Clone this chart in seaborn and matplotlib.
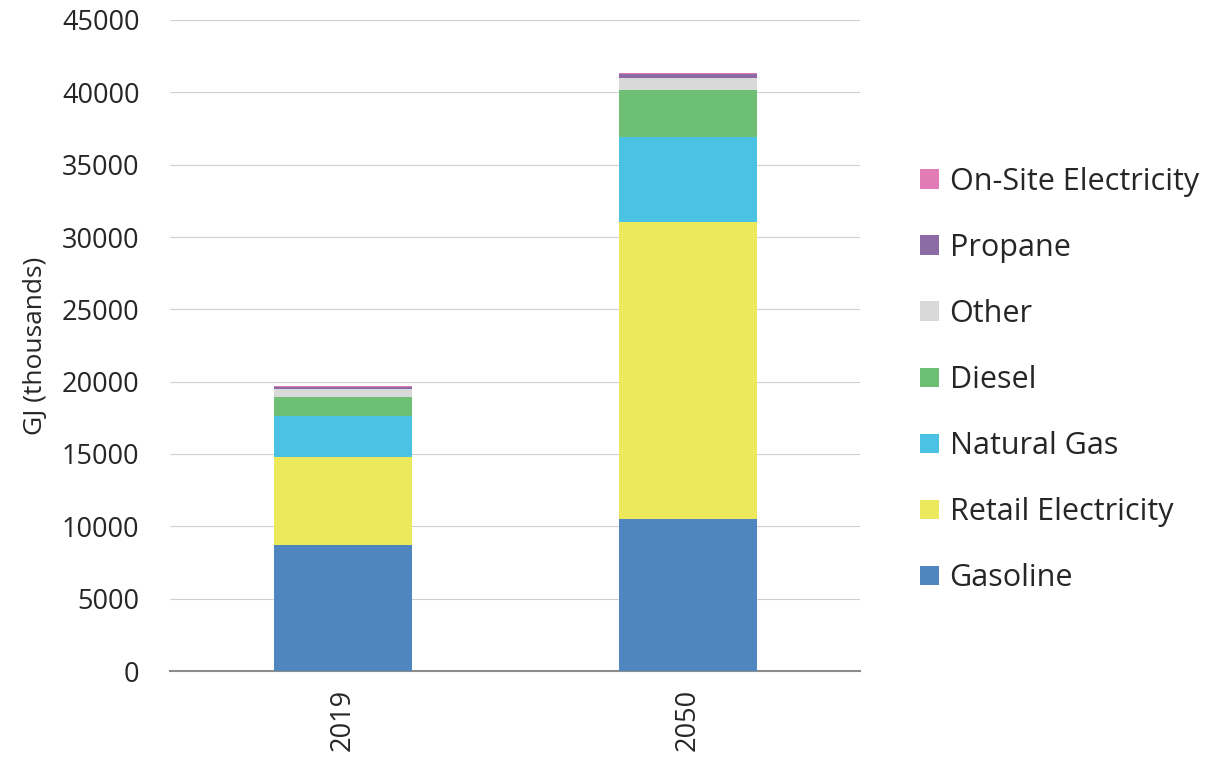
import matplotlib
matplotlib.use("Agg")
import matplotlib.pyplot as plt
import seaborn as sns
import numpy as np
import pandas as pd
from matplotlib.patches import Patch

years = ["2019", "2050"]
series = ["Gasoline", "Retail Electricity", "Natural Gas", "Diesel", "Other", "Propane", "On-Site Electricity"]
gasoline = [8700, 10500]
retail_electricity = [6100, 20550]
natural_gas = [2840, 5850]
diesel = [1330, 3230]
other = [530, 860]
propane = [150, 300]
onsite_electricity = [20, 40]
values = [gasoline, retail_electricity, natural_gas, diesel, other, propane, onsite_electricity]
colors = ["#4f86c0", "#ece95c", "#4bc1e3", "#6cbf74", "#d9d9d9", "#8c6ba4", "#e27cb6"]

sns.set_theme(style="white")
plt.rcParams['font.family'] = ['Open Sans', 'DejaVu Sans']
txt = "#262626"

fig = plt.figure(figsize=(12.12, 7.6), dpi=100)
ax = fig.add_axes([170/1212, 89/760, 690/1212, 651/760])

# cumulative tops, drawn from the top layer down so lower layers cover them
cum = np.cumsum(np.array(values), axis=0)
for i in range(len(series) - 1, -1, -1):
    df = pd.DataFrame({"year": years, "v": cum[i]})
    sns.barplot(data=df, x="year", y="v", color=colors[i], width=0.4, ax=ax,
                saturation=1, edgecolor="none", linewidth=0, zorder=3)

ax.set_xlim(-0.5, 1.5)
ax.set_ylim(0, 45000)
ax.set_yticks(np.arange(0, 45001, 5000))
ax.yaxis.grid(True, color="#d0d0d0", linewidth=0.8, zorder=0)
ax.set_axisbelow(True)
for s in ["left", "right", "top"]:
    ax.spines[s].set_visible(False)
ax.spines["bottom"].set_color("#8c8c8c")
ax.spines["bottom"].set_linewidth(1.5)
ax.tick_params(axis="y", labelsize=19.5, colors=txt, length=0, pad=22)
ax.tick_params(axis="x", labelsize=19.5, colors=txt, length=0, rotation=90, pad=13)
ax.set_xlabel("")
ax.set_ylabel("GJ (thousands)", fontsize=19, color=txt, labelpad=10)

handles = [Patch(facecolor=c, edgecolor="none", label=n) for n, c in zip(series, colors)][::-1]
leg = fig.legend(handles=handles, loc="center left", bbox_to_anchor=(893/1212, 0.5),
                 frameon=False, fontsize=22, labelspacing=1.18, handlelength=0.6,
                 handleheight=0.6, handletextpad=0.35, labelcolor=txt)

fig.savefig("out.png", dpi=100)
